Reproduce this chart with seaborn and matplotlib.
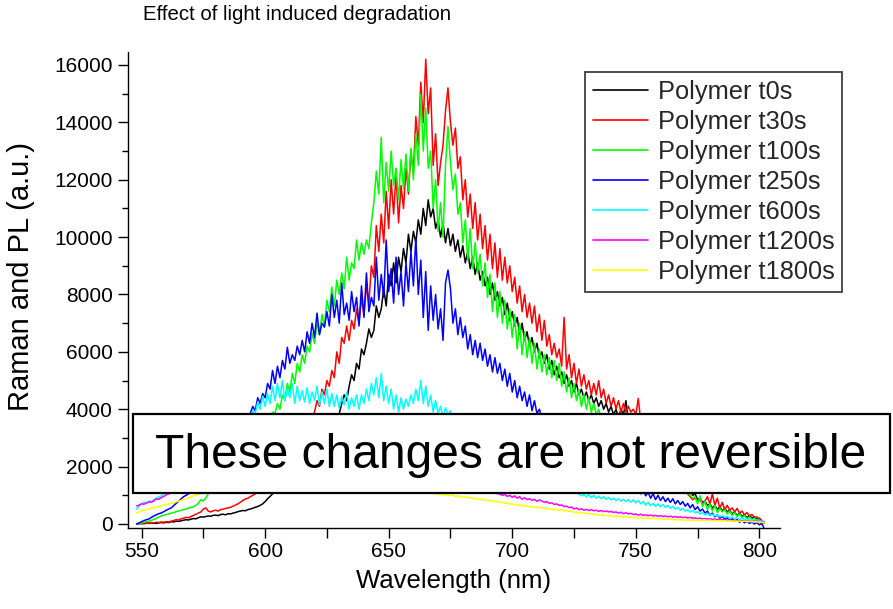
import numpy as np
import pandas as pd
import matplotlib
matplotlib.use("Agg")
import matplotlib.pyplot as plt
from matplotlib.patches import Rectangle
import seaborn as sns

# Wavelength grid of the spectrometer (nm), one reading per nm
wavelength = np.arange(548, 803)

# Intensity rows, ten readings per row starting at 548 nm
t0s = [
    0, 10, 20, 10, 30, 20, 40, 30, 20, 40,
    50, 40, 60, 50, 80, 70, 100, 90, 110, 130,
    150, 140, 170, 190, 180, 220, 250, 240, 260, 280,
    270, 300, 310, 290, 330, 340, 320, 360, 350, 380,
    400, 430, 450, 470, 460, 500, 520, 550, 580, 610,
    650, 700, 780, 880, 960, 1050, 1120, 1200, 1300, 1380,
    1450, 1520, 1600, 1700, 1800, 1900, 2000, 2120, 2240, 2350,
    2450, 2580, 2700, 2820, 2950, 3080, 3200, 3300, 3400, 3500,
    3600, 3750, 3850, 4200, 4500, 4300, 4800, 5200, 5000, 5600,
    5400, 6100, 5900, 6300, 6800, 6500, 6750, 7600, 7200, 7500,
    8200, 7600, 8700, 8300, 9100, 8400, 9300, 8800, 9600, 9100,
    10100, 9500, 10200, 9800, 10600, 10100, 11000, 10400, 11300, 10700,
    11000, 10300, 10600, 10000, 10500, 9800, 10300, 9700, 10100, 9500,
    9900, 9300, 9700, 9100, 9500, 8900, 9300, 8700, 9100, 8500,
    8800, 8300, 8600, 8000, 8400, 7800, 8100, 7600, 7900, 7300,
    7700, 7100, 7400, 6900, 7200, 6600, 7000, 6400, 6700, 6200,
    6500, 6000, 6300, 5800, 6000, 5600, 5900, 5400, 5700, 5200,
    5500, 5100, 5300, 4900, 5200, 4800, 5000, 4600, 4900, 4500,
    4700, 4400, 4600, 4300, 4500, 4200, 4400, 4100, 4300, 4000,
    4200, 3900, 4100, 3800, 4000, 3700, 4000, 3800, 4300, 3600,
    3700, 3400, 3500, 3200, 3300, 3000, 3100, 2800, 2900, 2600,
    2600, 2400, 2400, 2200, 2200, 2000, 1900, 1800, 1700, 1600,
    1500, 1400, 1400, 1200, 1200, 1000, 1050, 850, 900, 750,
    800, 650, 700, 550, 650, 500, 600, 450, 550, 420,
    480, 350, 420, 300, 380, 260, 330, 220, 300, 200,
    250, 150, 200, 100, 60,
]

t30s = [
    0, 20, 10, 30, 40, 30, 50, 40, 60, 50,
    70, 60, 80, 70, 100, 120, 150, 140, 180, 200,
    230, 220, 260, 300, 340, 380, 420, 520, 560, 450,
    420, 460, 480, 450, 500, 520, 540, 560, 580, 620,
    660, 700, 760, 820, 870, 900, 950, 1000, 1050, 1150,
    1250, 1350, 1400, 1500, 1600, 1700, 1800, 1900, 2000, 2150,
    2250, 2350, 2500, 2650, 2800, 2950, 3100, 3200, 3350, 3500,
    3650, 3800, 3900, 4300, 4100, 4700, 4500, 5000, 4800, 5350,
    5100, 6000, 5600, 6500, 6300, 6900, 6400, 7100, 6800, 7500,
    7000, 7900, 7300, 8300, 7700, 9000, 8600, 10400, 9500, 10800,
    9800, 11600, 10300, 12000, 10800, 12200, 10500, 11800, 11000, 12400,
    11500, 13000, 12200, 14200, 13200, 15400, 14000, 16200, 14300, 15200,
    12500, 13600, 11800, 12600, 13200, 14400, 15200, 14000, 13200, 13800,
    12400, 12800, 11300, 12000, 10700, 11500, 10300, 11200, 9900, 10800,
    9600, 10400, 9200, 10100, 8900, 9800, 8600, 9600, 8500, 9300,
    8400, 9000, 8100, 8600, 7700, 8300, 7400, 8000, 7200, 7700,
    7000, 7600, 6700, 7300, 6400, 7100, 6200, 6600, 5900, 6300,
    5800, 6100, 5500, 7200, 5400, 5900, 5100, 5600, 4900, 5400,
    4800, 5200, 4700, 5000, 4500, 4900, 4500, 5000, 4400, 4700,
    4200, 4500, 4100, 4400, 4000, 4300, 3900, 4200, 3900, 4100,
    3900, 4000, 3800, 4375, 3600, 3400, 3200, 3000, 2800, 2700,
    2600, 2500, 2350, 2200, 2100, 1950, 1850, 1700, 1600, 1450,
    1350, 1300, 1150, 1050, 950, 850, 900, 800, 850, 700,
    800, 950, 700, 1050, 650, 900, 550, 750, 500, 650,
    480, 560, 420, 540, 380, 450, 320, 400, 280, 330,
    220, 250, 140, 120, 30,
]

t100s = [
    0, 20, 40, 60, 80, 100, 130, 160, 200, 240,
    280, 300, 330, 350, 380, 400, 430, 450, 480, 500,
    520, 550, 580, 600, 650, 720, 850, 800, 900, 1050,
    1150, 1250, 1400, 1500, 1600, 1700, 1800, 1900, 2000, 2100,
    2250, 2350, 2500, 2600, 2700, 2800, 2900, 3000, 3100, 3200,
    3300, 3400, 3500, 3600, 3700, 3900, 3850, 4200, 4000, 4500,
    4300, 4900, 4600, 5250, 4900, 5600, 5300, 5900, 5600, 6200,
    6000, 6650, 6300, 7000, 6600, 7300, 6900, 7800, 7400, 8260,
    7600, 8500, 8000, 8750, 8200, 9300, 8500, 9100, 8900, 9900,
    9200, 9800, 9400, 9900, 9600, 10500, 11200, 12300, 11500, 13475,
    11200, 12600, 11600, 13000, 11800, 12400, 11300, 12700, 11700, 12900,
    11600, 13100, 12000, 13600, 12500, 14980, 13000, 14500, 12400, 13000,
    11000, 12000, 10200, 11200, 10000, 12500, 13860, 12600, 11650, 12200,
    10800, 11200, 9800, 10600, 9200, 10300, 8900, 9800, 8750, 9400,
    8300, 9100, 7900, 8700, 7400, 8400, 7200, 8100, 7000, 7800,
    6800, 7500, 6500, 7300, 6100, 7000, 5900, 6700, 5800, 6500,
    5600, 6300, 5400, 6100, 5300, 5900, 5200, 5800, 5100, 5700,
    5000, 5600, 4800, 5300, 4600, 5100, 4400, 4900, 4300, 4700,
    4100, 4500, 4000, 4400, 3900, 4200, 3800, 4000, 3700, 3800,
    3600, 3650, 3500, 3450, 3350, 3300, 3200, 3150, 3050, 3000,
    2900, 2850, 2750, 2700, 2600, 2500, 2450, 2350, 2300, 2200,
    2100, 2050, 1950, 1900, 1800, 1700, 1650, 1550, 1500, 1400,
    1300, 1250, 1150, 1100, 1000, 900, 950, 700, 980, 600,
    800, 500, 700, 450, 650, 400, 550, 420, 500, 350,
    450, 300, 400, 260, 350, 220, 300, 180, 250, 150,
    200, 120, 150, 60, 20,
]

t250s = [
    0, 40, 80, 120, 150, 175, 230, 280, 320, 360,
    385, 430, 480, 520, 560, 640, 720, 800, 875, 950,
    1000, 1050, 1150, 1250, 1350, 1450, 1550, 1700, 1800, 1900,
    2050, 2150, 2300, 2400, 2500, 2600, 2700, 2800, 2900, 3000,
    3100, 3200, 3300, 3400, 3500, 3650, 3850, 4100, 3950, 4400,
    4200, 4550, 4400, 4900, 4700, 5350, 4900, 5500, 5100, 5700,
    5400, 6160, 5600, 5900, 5700, 6200, 5900, 6400, 6000, 6700,
    6300, 7000, 6500, 7350, 6600, 7000, 6860, 7400, 6900, 8000,
    7200, 7800, 7000, 8400, 7300, 7700, 7100, 8100, 7400, 7900,
    6900, 8300, 7200, 8750, 7400, 7900, 7600, 9300, 7800, 8700,
    7900, 9900, 8100, 8900, 7700, 9300, 8000, 8800, 7600, 9100,
    8100, 9500, 8300, 9975, 8000, 9200, 7200, 8800, 6750, 8300,
    7100, 8000, 6800, 7500, 6400, 8400, 8850, 8200, 7000, 7500,
    6600, 7200, 6500, 6900, 6100, 6600, 5900, 6400, 5800, 6300,
    5700, 6100, 5500, 5900, 5300, 5800, 5250, 5600, 5000, 5400,
    4800, 5250, 4600, 5000, 4400, 4800, 4300, 4600, 4100, 4500,
    3950, 4300, 3850, 4000, 3700, 3600, 3500, 3400, 3300, 3200,
    3100, 3000, 2950, 2850, 2750, 2650, 2550, 2500, 2400, 2300,
    2250, 2200, 2150, 2100, 2050, 2000, 1950, 1900, 1850, 1800,
    1750, 1700, 1650, 1600, 1550, 1500, 1450, 1400, 1350, 1300,
    1250, 1300, 1150, 1250, 1050, 1200, 980, 1100, 900, 1050,
    850, 1000, 820, 950, 780, 900, 750, 880, 700, 820,
    680, 780, 620, 720, 560, 680, 500, 600, 450, 520,
    380, 450, 300, 380, 250, 320, 200, 260, 160, 220,
    120, 180, 100, 150, 60, 120, 40, 100, 20, 70,
    0, 50, -30, 20, -170,
]

t600s = [
    520, 620, 700, 760, 720, 800, 780, 850, 900, 940,
    980, 1050, 1100, 1150, 1200, 1250, 1300, 1350, 1400, 1450,
    1500, 1550, 1600, 1650, 1700, 1800, 1850, 1900, 2000, 2100,
    2150, 2250, 2350, 2450, 2550, 2650, 2750, 2850, 2950, 3050,
    3150, 3250, 3350, 3450, 3550, 3650, 3700, 3950, 3850, 4250,
    4000, 4450, 4100, 4550, 4200, 4800, 4300, 4900, 4400, 5000,
    4300, 4700, 4400, 4900, 4200, 4800, 4300, 4650, 4250, 4750,
    4200, 4600, 4300, 4800, 4150, 4600, 4200, 4700, 4100, 4550,
    4100, 4500, 4050, 4450, 4150, 4600, 4000, 4400, 4100, 4500,
    4000, 4500, 4200, 4700, 4300, 4900, 4500, 5100, 4400, 5250,
    4300, 4800, 4200, 4700, 4000, 4500, 3900, 4400, 4000, 4350,
    4100, 4500, 4200, 4700, 4300, 5000, 4200, 4800, 4100, 4500,
    3900, 4300, 3850, 4100, 3700, 4050, 3800, 3950, 3600, 3700,
    3550, 3500, 3450, 3400, 3350, 3250, 3200, 3100, 3050, 2950,
    2900, 2850, 2800, 2750, 2650, 2600, 2550, 2500, 2450, 2350,
    2300, 2250, 2200, 2150, 2100, 2050, 2000, 1950, 1900, 1850,
    1800, 1750, 1700, 1650, 1620, 1580, 1540, 1500, 1460, 1420,
    1380, 1340, 1300, 1260, 1220, 1180, 1140, 1100, 1080, 1050,
    980, 1040, 950, 1020, 920, 1000, 900, 970, 880, 950,
    860, 930, 840, 900, 820, 880, 800, 860, 780, 850,
    760, 840, 740, 820, 700, 780, 660, 760, 640, 720,
    620, 700, 600, 680, 580, 650, 550, 620, 520, 580,
    480, 540, 450, 500, 420, 470, 390, 430, 350, 400,
    320, 370, 300, 340, 280, 310, 250, 290, 230, 260,
    200, 240, 180, 220, 160, 200, 150, 180, 130, 160,
    120, 140, 100, 110, 80,
]

t1200s = [
    630, 660, 700, 690, 735, 770, 760, 810, 875, 860,
    920, 960, 1015, 1050, 1100, 1140, 1180, 1220, 1260, 1300,
    1340, 1380, 1420, 1460, 1500, 1540, 1580, 1620, 1660, 1700,
    1740, 1780, 1820, 1860, 1890, 1920, 1950, 1980, 2010, 2040,
    2070, 2100, 2120, 2140, 2160, 2180, 2200, 2220, 2240, 2260,
    2280, 2300, 2310, 2320, 2330, 2340, 2350, 2360, 2370, 2380,
    2390, 2400, 2400, 2400, 2400, 2400, 2400, 2400, 2400, 2400,
    2400, 2400, 2390, 2380, 2370, 2360, 2350, 2340, 2330, 2320,
    2310, 2300, 2280, 2260, 2240, 2220, 2200, 2180, 2160, 2140,
    2120, 2100, 2080, 2060, 2040, 2020, 2000, 1980, 1960, 1940,
    1920, 1900, 1880, 1860, 1840, 1820, 1800, 1780, 1760, 1740,
    1720, 1700, 1680, 1660, 1640, 1620, 1600, 1580, 1560, 1540,
    1520, 1500, 1480, 1460, 1440, 1420, 1400, 1380, 1360, 1340,
    1320, 1300, 1280, 1260, 1240, 1220, 1200, 1190, 1180, 1170,
    1160, 1150, 1140, 1120, 1100, 1080, 1060, 1040, 1000, 1030,
    960, 1000, 930, 980, 900, 950, 860, 920, 850, 880,
    820, 860, 790, 840, 800, 760, 780, 720, 740, 680,
    700, 650, 660, 610, 620, 570, 590, 525, 560, 500,
    530, 480, 510, 470, 500, 460, 480, 440, 470, 430,
    455, 420, 440, 400, 420, 380, 410, 360, 390, 350,
    370, 330, 350, 310, 340, 300, 320, 290, 310, 280,
    300, 270, 290, 260, 280, 250, 270, 240, 260, 230,
    250, 220, 240, 210, 230, 200, 215, 190, 200, 180,
    190, 170, 180, 160, 170, 150, 160, 140, 150, 130,
    140, 120, 130, 110, 120, 100, 110, 90, 100, 90,
    95, 85, 90, 80, 70,
]

t1800s = [
    385, 420, 450, 480, 500, 525, 550, 570, 600, 610,
    630, 660, 680, 700, 720, 740, 770, 800, 820, 850,
    880, 920, 950, 980, 1000, 1030, 1060, 1090, 1120, 1150,
    1180, 1210, 1240, 1260, 1280, 1300, 1320, 1340, 1360, 1380,
    1400, 1420, 1440, 1460, 1480, 1490, 1500, 1510, 1520, 1530,
    1540, 1550, 1555, 1560, 1565, 1570, 1575, 1580, 1585, 1590,
    1595, 1600, 1600, 1600, 1600, 1600, 1595, 1590, 1580, 1570,
    1560, 1550, 1540, 1530, 1520, 1510, 1500, 1490, 1480, 1470,
    1460, 1450, 1440, 1430, 1420, 1410, 1400, 1390, 1380, 1370,
    1360, 1350, 1340, 1330, 1320, 1310, 1300, 1290, 1280, 1270,
    1260, 1250, 1240, 1230, 1220, 1210, 1200, 1190, 1180, 1170,
    1160, 1150, 1140, 1130, 1120, 1110, 1100, 1090, 1080, 1070,
    1060, 1050, 1050, 1020, 1050, 1000, 1020, 990, 1000, 960,
    980, 940, 960, 920, 940, 900, 910, 870, 890, 850,
    860, 820, 840, 800, 820, 780, 790, 750, 760, 720,
    730, 690, 700, 670, 680, 640, 660, 620, 640, 600,
    610, 580, 590, 560, 570, 540, 550, 520, 530, 500,
    510, 480, 490, 460, 470, 440, 450, 400, 420, 385,
    400, 370, 380, 350, 360, 330, 340, 310, 320, 290,
    300, 280, 290, 260, 280, 250, 270, 240, 260, 230,
    250, 220, 240, 210, 230, 200, 220, 195, 210, 190,
    200, 180, 190, 170, 180, 160, 170, 150, 160, 140,
    150, 135, 145, 130, 140, 125, 135, 130, 140, 125,
    135, 120, 130, 115, 125, 110, 120, 105, 115, 100,
    110, 100, 105, 95, 100, 90, 95, 85, 90, 80,
    80, 70, 70, 60, 50,
]

series_names = ["Polymer t0s", "Polymer t30s", "Polymer t100s", "Polymer t250s",
                "Polymer t600s", "Polymer t1200s", "Polymer t1800s"]
series_values = [t0s, t30s, t100s, t250s, t600s, t1200s, t1800s]
series_colors = ["#000000", "#ff0000", "#00ff00", "#0000ff",
                 "#00ffff", "#ff00ff", "#ffff00"]

x_major = [550, 600, 650, 700, 750, 800]
x_minor = [575, 625, 675, 725, 775]
y_major = [0, 2000, 4000, 6000, 8000, 10000, 12000, 14000, 16000]
y_minor = [1000, 3000, 5000, 7000, 9000, 11000, 13000, 15000]

frames = []
for name, vals in zip(series_names, series_values):
    frames.append(pd.DataFrame({"Wavelength (nm)": wavelength,
                                "Intensity": vals,
                                "Sample": name}))
data = pd.concat(frames, ignore_index=True)

sns.set_theme(style="ticks")
plt.rcParams["font.family"] = ["Liberation Sans", "DejaVu Sans"]

fig = plt.figure(figsize=(8.93, 6.09), dpi=100)
ax = fig.add_axes([0.1433, 0.133, 0.730, 0.7816])

sns.lineplot(data=data, x="Wavelength (nm)", y="Intensity", hue="Sample",
             hue_order=series_names, palette=series_colors,
             estimator=None, sort=False, linewidth=1.1, ax=ax, legend=False)

ax.set_xlim(544.5, 808.3)
ax.set_ylim(-140, 16452)
ax.set_xticks(x_major)
ax.set_xticks(x_minor, minor=True)
ax.set_yticks(y_major)
ax.set_yticks(y_minor, minor=True)
ax.tick_params(axis="both", which="both", direction="out", color="black",
               width=1.0, labelsize=15, labelcolor="black")
ax.tick_params(axis="x", which="both", length=7, pad=3)
ax.tick_params(axis="y", which="major", length=7, pad=4)
ax.tick_params(axis="y", which="minor", length=4)

for side in ("top", "right"):
    ax.spines[side].set_visible(False)
for side in ("left", "bottom"):
    ax.spines[side].set_color("black")
    ax.spines[side].set_linewidth(1.0)

ax.set_xlabel("Wavelength (nm)", fontsize=18.5, color="black", labelpad=6)
ax.set_ylabel("Raman and PL (a.u.)", fontsize=21, color="black")
ax.yaxis.set_label_coords(-0.1429, 0.529)

fig.text(143 / 893, 1 - 15 / 609, "Effect of light induced degradation",
         ha="left", va="center", fontsize=14.7, color="black")

handles = [plt.Line2D([], [], color=c, linewidth=1.2) for c in series_colors]
leg = ax.legend(handles, series_names, loc="upper left",
                bbox_to_anchor=(585 / 893, 1 - 72 / 609),
                bbox_transform=fig.transFigure, borderaxespad=0,
                fontsize=18.3, frameon=True, fancybox=False,
                handlelength=2.17, handletextpad=0.4, labelspacing=0.24,
                borderpad=0.3)
leg.get_frame().set_edgecolor("#404040")
leg.get_frame().set_linewidth(1.3)
leg.get_frame().set_facecolor("white")
leg.get_frame().set_alpha(1.0)

# Annotation banner laid over the lower part of the spectra
banner = Rectangle((133 / 893, 1 - 493 / 609), 757 / 893, 79 / 609,
                   transform=fig.transFigure, facecolor="white",
                   edgecolor="black", linewidth=1.6, zorder=10)
fig.add_artist(banner)
fig.text(511 / 893, 1 - 455 / 609, "These changes are not reversible",
         ha="center", va="center", fontsize=34.5, color="black", zorder=11)

fig.savefig("out.png", dpi=100)
